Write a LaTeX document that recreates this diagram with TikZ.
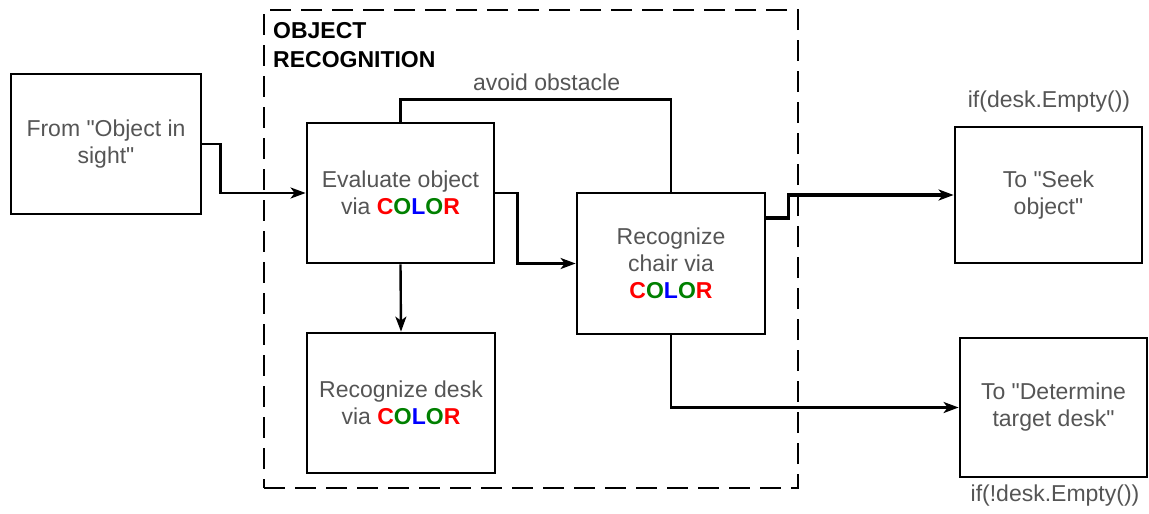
\documentclass[tikz,border=0pt]{standalone}
\usepackage{fontspec}
\setmainfont{Liberation Sans}
\usetikzlibrary{arrows.meta}
\definecolor{cred}{RGB}{255,0,0}
\definecolor{cgreen}{RGB}{0,128,0}
\definecolor{cblue}{RGB}{0,0,255}
\definecolor{txt}{RGB}{85,85,85}
% the word COLOR, letter by letter
\newcommand{\colword}{\textbf{\textcolor{cred}{C}\textcolor{cgreen}{O}\textcolor{cblue}{L}\textcolor{cgreen}{O}\textcolor{cred}{R}}}
% straight double quote, taken as a glyph so no text mapping curls it
\newcommand{\dq}{\XeTeXglyph\XeTeXcharglyph"22\relax}
\begin{document}
\begin{tikzpicture}[x=1pt,y=-1pt,
  every node/.style={font=\fontsize{23}{27}\selectfont, text=txt},
  box/.style={draw=black, line width=2.8pt, inner sep=0pt, align=center},
  frame/.style={draw=black, line width=2.8pt, dash pattern=on 21pt off 10pt, inner sep=0pt},
  conn/.style={line width=2.4pt},
  arr/.style={conn, -{Stealth[length=15pt,width=11pt,inset=4pt]}},
  lbl/.style={inner sep=0pt}]
\useasboundingbox (0,0) rectangle (1149,514);

% object recognition group
\node[frame, minimum width=534, minimum height=478] (group) at (531,249) {};
\node[lbl, anchor=north west, align=left, text=black, font=\fontsize{23}{29}\selectfont\bfseries] (title) at (273,22) {OBJECT\\RECOGNITION};

% boxes
\node[box, minimum width=190, minimum height=140] (from)  at (106,144)   {From \dq Object in\\sight\dq};
\node[box, minimum width=187, minimum height=140] (eval)  at (400.5,193) {Evaluate object\\via \colword};
\node[box, minimum width=188, minimum height=140] (desk)  at (401,403)   {Recognize desk\\via \colword};
\node[box, minimum width=188, minimum height=141] (chair) at (671,263.5) {Recognize\\chair via\\\colword};
\node[box, minimum width=187, minimum height=136] (seek)  at (1048.5,195) {To \dq Seek\\object\dq};
\node[box, minimum width=187, minimum height=139] (det)   at (1053.5,407.5) {To \dq Determine\\target desk\dq};

% condition labels
\node[lbl] (ifempty)  at (1049,102) {if(desk.Empty())};
\node[lbl] (ifnempty) at (1055,496) {if(!desk.Empty())};

% connectors
\draw[arr] (from.east) -- ++(18,0) |- (eval.west);
\draw[arr] (eval.east) -- ++(22,0) |- (chair.west);
\draw[arr] (eval.south) -- (desk.north);
\draw[conn] (eval.north) -- ++(0,-22) -| (chair.north)
  node[lbl, pos=0.27, anchor=south, yshift=8pt] (avoid) {avoid obstacle};
\draw[arr, line width=3.4pt] ([yshift=45.5pt]chair.east) -- ++(22,0) |- (seek.west);
\draw[arr] (chair.south) |- (det.west);
\end{tikzpicture}
\end{document}
